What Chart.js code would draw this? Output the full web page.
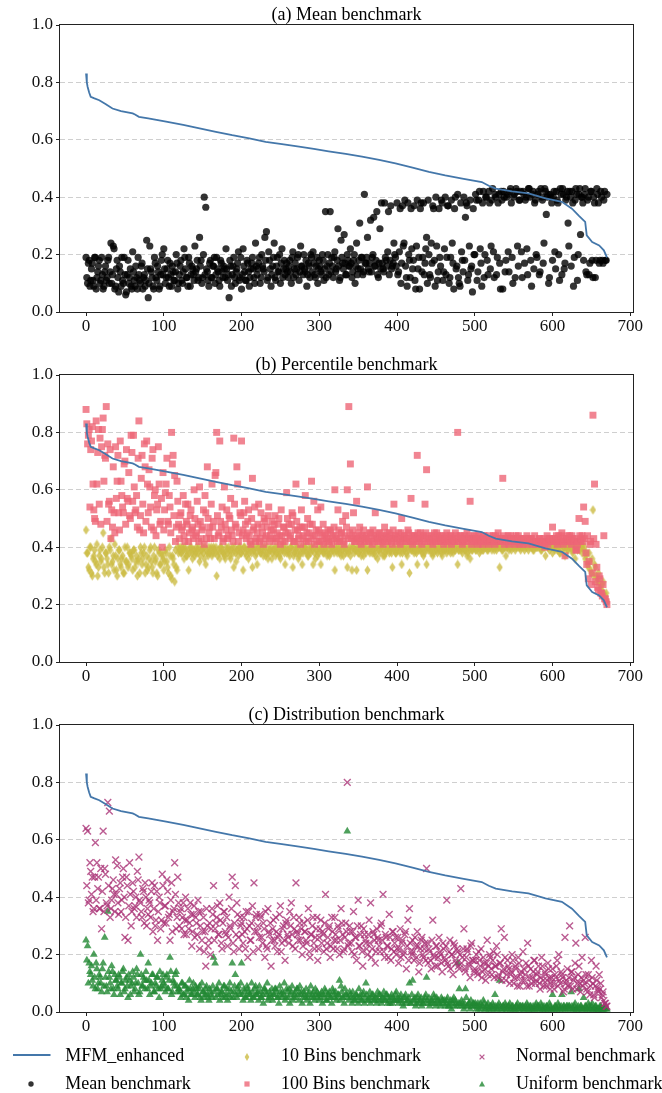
<!DOCTYPE html>
<html><head><meta charset="utf-8">
<script src="https://cdn.jsdelivr.net/npm/chart.js@4.4.1/dist/chart.umd.min.js"></script>
<style>
html,body{margin:0;padding:0;background:#fff;}
body{width:662px;height:1093px;position:relative;overflow:hidden;font-family:"Liberation Serif","Times New Roman",serif;}
canvas{position:absolute;left:0;}
.lg{position:absolute;font-size:18px;line-height:20px;height:20px;white-space:nowrap;color:#000;}
.mk{position:absolute;overflow:visible;}
</style></head><body>
<canvas id="ca" width="662" height="350" style="top:0"></canvas>
<canvas id="cb" width="662" height="350" style="top:350px"></canvas>
<canvas id="cc" width="662" height="350" style="top:700px"></canvas>
<div id="legend"></div>
<script>
// ---------- DATA ----------
const panelTitles = ['(a) Mean benchmark', '(b) Percentile benchmark', '(c) Distribution benchmark'];
const xTicks = [0, 100, 200, 300, 400, 500, 600, 700];
const yTicks = [0, 0.2, 0.4, 0.6, 0.8, 1.0];

// MFM_enhanced (sorted curve), read at breakpoints
const mfmX = [0,1,2,4,6,10,17,25,34,45,60,63,68,80,103,125,146,167,188,210,231,252,274,293,312,334,355,377,398,420,441,462,484,509,518,527,548,569,591,612,625,634,642,644,651,660,666,670];
const mfmY = [.831,.80,.785,.765,.75,.745,.738,.725,.709,.70,.692,.688,.68,.675,.663,.652,.64,.628,.616,.605,.593,.585,.576,.568,.56,.551,.541,.53,.518,.503,.488,.476,.465,.453,.44,.43,.42,.413,.396,.384,.36,.335,.314,.267,.244,.232,.215,.19];

// Each scatter series: values at even sample indices (0,2,...,670) and odd ones (1,3,...,669)
const meanBenchEven = [
.19,.10,.18,.11,.17,.09,.19,.12,.16,.10,
.19,.08,.14,.11,.18,.10,.24,.13,.22,.09,
.18,.07,.14,.19,.10,.13,.07,.18,.12,.09,
.21,.11,.16,.08,.13,.10,.17,.12,.09,.25,
.05,.23,.14,.09,.19,.12,.16,.08,.13,.20,
.22,.10,.15,.12,.17,.09,.14,.11,.20,.08,
.13,.18,.10,.22,.15,.12,.19,.09,.16,.13,
.23,.15,.11,.26,.18,.12,.40,.365,.14,.09,
.18,.12,.16,.10,.19,.14,.09,.17,.12,.15,
.22,.11,.05,.16,.13,.19,.10,.15,.21,.12,
.08,.22,.14,.11,.17,.09,.15,.19,.12,.24,
.13,.17,.10,.20,.15,.26,.28,.12,.18,.09,
.16,.24,.11,.19,.14,.10,.22,.15,.13,.17,
.12,.18,.10,.21,.15,.13,.19,.11,.23,.16,
.20,.14,.09,.17,.12,.19,.21,.13,.16,.10,
.18,.14,.20,.11,.35,.16,.13,.35,.19,.12,
.21,.15,.29,.11,.25,.17,.27,.13,.20,.16,
.22,.12,.18,.10,.24,.15,.31,.19,.13,.41,
.17,.26,.14,.32,.19,.33,.16,.35,.12,.29,
.38,.15,.38,.18,.21,.13,.37,.16,.24,.19,
.38,.14,.36,.17,.23,.39,.12,.38,.18,.36,
.15,.37,.08,.39,.19,.36,.14,.38,.17,.26,
.39,.13,.24,.37,.18,.40,.11,.36,.16,.38,
.14,.40,.19,.37,.12,.39,.17,.36,.15,.41,
.10,.38,.18,.40,.33,.37,.13,.39,.16,.36,
.20,.39,.14,.42,.17,.38,.12,.40,.18,.42,
.15,.39,.21,.41,.13,.38,.17,.42,.08,.40,
.18,.41,.14,.43,.19,.40,.12,.42,.16,.39,
.21,.42,.17,.40,.13,.43,.18,.41,.15,.39,
.19,.42,.14,.40,.17,.43,.34,.41,.12,.40,
.18,.42,.15,.39,.20,.43,.13,.41,.17,.40,
.31,.42,.16,.38,.19,.43,.11,.41,.27,.40,
.18,.43,.13,.40,.17,.42,.12,.38,.18,.41,
.17,.42,.18,.39,.18,.41];
const meanBenchOdd = [
.12,.17,.09,.15,.11,.19,.08,.14,.18,.11,
.13,.09,.16,.12,.19,.14,.10,.23,.08,.15,
.12,.16,.09,.11,.19,.06,.13,.10,.15,.08,
.14,.09,.12,.19,.11,.16,.08,.13,.11,.15,
.10,.15,.12,.08,.17,.11,.14,.09,.18,.13,
.15,.12,.18,.09,.13,.16,.11,.14,.17,.10,
.16,.11,.14,.19,.12,.09,.17,.13,.15,.11,
.14,.18,.12,.16,.10,.20,.13,.15,.11,.17,
.12,.16,.19,.13,.15,.11,.18,.14,.16,.12,
.15,.13,.18,.09,.16,.12,.14,.17,.11,.19,
.13,.16,.11,.18,.14,.12,.17,.15,.10,.16,
.15,.19,.12,.16,.14,.18,.11,.21,.15,.13,
.19,.12,.16,.14,.20,.17,.12,.18,.15,.14,
.16,.14,.19,.12,.17,.15,.20,.14,.16,.13,
.15,.18,.13,.16,.20,.14,.17,.12,.19,.15,
.16,.13,.18,.15,.12,.20,.17,.14,.16,.19,
.14,.18,.16,.12,.19,.15,.17,.13,.18,.16,
.17,.14,.20,.16,.13,.18,.15,.19,.14,.17,
.19,.15,.17,.14,.20,.16,.18,.13,.17,.15,
.17,.14,.19,.16,.35,.18,.15,.17,.20,.16,
.13,.21,.10,.37,.24,.16,.09,.20,.12,.22,
.18,.11,.23,.15,.08,.38,.19,.13,.22,.10,
.20,.12,.17,.36,.09,.23,.14,.19,.39,.11,
.22,.13,.37,.10,.19,.24,.08,.40,.16,.12,
.09,.21,.14,.18,.38,.11,.23,.15,.07,.20,
.41,.11,.39,.22,.09,.42,.20,.40,.13,.38,
.23,.43,.12,.40,.19,.41,.08,.39,.42,.14,
.40,.21,.42,.38,.10,.41,.43,.23,.39,.42,
.12,.41,.39,.22,.43,.40,.09,.42,.38,.20,
.41,.13,.43,.39,.24,.42,.40,.10,.41,.38,
.40,.21,.42,.38,.11,.41,.43,.15,.39,.42,
.23,.40,.42,.09,.39,.41,.20,.43,.40,.38,
.41,.14,.39,.13,.42,.18,.40,.12,.43,.38,
.18,.40,.17,.42,.18];

const bins10Even = [
.46,.38,.32,.40,.30,.37,.35,.41,.33,.39,
.36,.45,.31,.38,.34,.40,.43,.35,.32,.37,
.30,.39,.34,.36,.31,.40,.35,.33,.38,.37,
.32,.39,.35,.30,.36,.40,.34,.38,.31,.37,
.33,.39,.35,.31,.40,.36,.30,.38,.34,.37,
.32,.39,.35,.31,.37,.29,.36,.28,.33,.40,
.39,.38,.40,.36,.39,.37,.32,.40,.38,.39,
.37,.40,.38,.35,.39,.40,.36,.34,.38,.40,
.39,.37,.40,.38,.30,.39,.36,.40,.38,.37,
.40,.38,.39,.36,.40,.33,.38,.39,.37,.40,
.38,.32,.40,.37,.39,.38,.40,.33,.39,.37,
.34,.40,.38,.39,.37,.40,.38,.36,.39,.40,
.38,.39,.37,.40,.38,.36,.39,.40,.34,.38,
.39,.37,.40,.33,.38,.39,.40,.37,.38,.34,
.39,.40,.38,.37,.39,.40,.34,.38,.39,.37,
.40,.34,.39,.38,.40,.37,.39,.38,.40,.39,
.32,.39,.40,.38,.37,.39,.40,.38,.33,.39,
.37,.32,.40,.39,.32,.38,.40,.37,.39,.40,
.38,.32,.39,.40,.38,.39,.37,.40,.39,.38,
.40,.37,.37,.39,.40,.38,.39,.33,.40,.38,
.39,.40,.38,.34,.40,.39,.38,.40,.31,.39,
.40,.38,.39,.34,.40,.39,.38,.37,.40,.34,
.39,.40,.38,.37,.40,.39,.38,.40,.39,.37,
.40,.39,.38,.40,.39,.40,.38,.39,.40,.34,
.39,.40,.38,.40,.39,.37,.40,.36,.39,.40,
.40,.39,.40,.38,.40,.39,.40,.40,.39,.40,
.40,.39,.40,.41,.39,.40,.33,.40,.39,.40,
.37,.40,.39,.40,.41,.40,.39,.40,.41,.40,
.40,.41,.39,.40,.41,.40,.41,.40,.39,.41,
.40,.41,.40,.39,.41,.40,.41,.40,.39,.41,
.38,.40,.41,.39,.40,.38,.41,.40,.37,.40,
.39,.41,.40,.38,.41,.40,.39,.41,.40,.38,
.39,.36,.38,.33,.35,.31,.53,.34,.30,.29,
.28,.26,.27,.24,.23,.21];
const bins10Odd = [
.38,.33,.40,.31,.36,.39,.34,.30,.37,.35,
.40,.33,.38,.36,.31,.39,.34,.37,.41,.32,
.36,.39,.33,.37,.31,.35,.40,.34,.38,.36,
.39,.33,.37,.35,.31,.38,.36,.40,.34,.32,
.36,.40,.33,.37,.35,.31,.39,.34,.38,.36,
.35,.38,.33,.40,.30,.37,.34,.39,.32,.38,
.40,.38,.39,.40,.37,.39,.38,.40,.36,.39,
.38,.39,.40,.37,.39,.38,.40,.39,.37,.38,
.40,.38,.39,.40,.37,.38,.40,.39,.38,.36,
.39,.40,.37,.39,.38,.40,.35,.39,.40,.38,
.39,.40,.38,.39,.36,.40,.38,.39,.40,.38,
.40,.39,.38,.40,.39,.37,.40,.38,.39,.36,
.39,.40,.38,.39,.37,.40,.39,.38,.40,.39,
.38,.40,.39,.37,.40,.38,.36,.39,.40,.38,
.40,.39,.37,.40,.38,.39,.40,.36,.39,.38,
.39,.40,.38,.39,.40,.38,.37,.40,.39,.38,
.40,.38,.39,.40,.39,.37,.40,.39,.38,.40,
.39,.40,.38,.39,.40,.38,.39,.40,.37,.39,
.40,.39,.38,.40,.39,.38,.40,.36,.39,.40,
.39,.40,.38,.39,.40,.39,.38,.40,.39,.38,
.40,.39,.40,.38,.39,.40,.37,.39,.40,.39,
.39,.40,.38,.39,.40,.39,.40,.38,.39,.40,
.40,.39,.40,.38,.39,.40,.39,.40,.38,.39,
.39,.40,.39,.40,.38,.39,.40,.39,.40,.39,
.40,.39,.40,.39,.40,.38,.39,.40,.39,.40,
.39,.40,.41,.39,.40,.39,.41,.40,.39,.40,
.41,.40,.39,.40,.41,.40,.40,.39,.41,.40,
.40,.41,.40,.39,.40,.41,.40,.41,.40,.39,
.41,.40,.41,.40,.39,.41,.40,.39,.41,.40,
.40,.41,.39,.41,.40,.37,.41,.40,.41,.40,
.40,.39,.41,.40,.38,.41,.39,.40,.41,.39,
.41,.40,.39,.41,.36,.40,.41,.39,.40,.41,
.40,.37,.34,.38,.32,.36,.30,.33,.28,.31,
.27,.25,.28,.22,.24];

const bins100Even = [
.88,.76,.81,.74,.82,.53,.49,.62,.81,.78,
.75,.85,.72,.89,.76,.56,.43,.47,.52,.75,
.63,.52,.77,.58,.52,.70,.74,.56,.51,.79,
.56,.61,.53,.47,.84,.51,.72,.45,.68,.77,
.52,.61,.47,.74,.58,.44,.55,.62,.49,.40,
.46,.59,.71,.48,.54,.80,.72,.65,.47,.56,
.43,.52,.47,.44,.55,.48,.42,.51,.46,.43,
.50,.45,.48,.61,.43,.47,.41,.52,.68,.45,
.43,.62,.49,.65,.80,.44,.77,.47,.42,.61,
.46,.43,.51,.57,.44,.78,.48,.68,.42,.52,
.77,.46,.56,.43,.49,.44,.41,.64,.47,.42,
.45,.55,.43,.47,.41,.49,.44,.51,.42,.46,
.43,.48,.42,.45,.50,.41,.44,.47,.42,.59,
.45,.43,.48,.51,.42,.62,.46,.44,.41,.47,
.43,.58,.45,.42,.48,.63,.44,.41,.46,.53,
.42,.54,.44,.41,.45,.43,.42,.46,.41,.44,
.60,.43,.53,.42,.45,.49,.41,.51,.60,.89,
.69,.44,.52,.42,.56,.43,.47,.41,.44,.42,
.43,.61,.42,.45,.41,.44,.52,.43,.42,.45,
.43,.41,.47,.44,.42,.45,.43,.41,.55,.44,
.42,.45,.41,.50,.43,.44,.42,.46,.43,.57,
.41,.44,.42,.72,.43,.45,.41,.44,.55,.67,
.42,.44,.43,.41,.45,.42,.44,.43,.42,.44,
.41,.43,.45,.42,.44,.41,.43,.42,.44,.80,
.42,.44,.41,.43,.42,.45,.43,.56,.41,.43,
.42,.44,.41,.43,.42,.41,.44,.42,.43,.41,
.42,.43,.44,.41,.42,.45,.43,.42,.64,.41,
.43,.42,.41,.44,.42,.43,.41,.42,.44,.41,
.42,.41,.43,.42,.41,.42,.43,.41,.42,.41,
.42,.41,.43,.41,.42,.40,.42,.41,.43,.42,
.47,.42,.43,.41,.44,.42,.45,.41,.37,.43,
.42,.44,.41,.43,.42,.39,.41,.50,.42,.44,
.54,.49,.34,.29,.41,.27,.86,.62,.41,.26,
.30,.24,.23,.44,.22,.20];
const bins100Odd = [
.83,.79,.54,.77,.62,.50,.84,.73,.55,.48,
.81,.63,.71,.49,.55,.74,.53,.68,.45,.57,
.72,.46,.63,.54,.69,.48,.57,.66,.50,.73,
.79,.52,.58,.71,.46,.64,.55,.76,.49,.62,
.67,.54,.71,.46,.60,.53,.75,.48,.57,.66,
.53,.62,.49,.58,.45,.69,.51,.42,.63,.48,
.51,.46,.58,.42,.49,.55,.45,.53,.47,.60,
.44,.56,.42,.49,.46,.53,.58,.43,.50,.47,
.55,.47,.43,.66,.51,.45,.49,.54,.43,.48,
.53,.44,.50,.46,.42,.55,.47,.62,.45,.51,
.44,.52,.48,.45,.53,.42,.50,.46,.54,.43,
.48,.42,.52,.45,.50,.43,.47,.54,.44,.49,
.46,.51,.43,.48,.44,.53,.42,.47,.45,.50,
.48,.44,.52,.42,.46,.49,.43,.47,.53,.44,
.47,.42,.50,.45,.43,.48,.56,.44,.42,.46,
.45,.42,.48,.44,.43,.46,.42,.45,.43,.47,
.44,.42,.46,.43,.45,.42,.44,.47,.43,.45,
.43,.46,.42,.44,.43,.45,.42,.44,.46,.43,
.44,.42,.45,.43,.46,.42,.44,.43,.45,.42,
.44,.43,.42,.45,.43,.44,.42,.46,.43,.44,
.43,.42,.45,.43,.44,.42,.43,.45,.42,.44,
.42,.44,.43,.45,.42,.43,.44,.42,.45,.43,
.43,.42,.44,.43,.42,.45,.43,.44,.42,.43,
.42,.44,.43,.42,.44,.43,.42,.45,.43,.42,
.44,.43,.42,.44,.43,.42,.44,.43,.42,.44,
.43,.42,.44,.42,.43,.44,.42,.43,.42,.44,
.42,.43,.42,.44,.43,.42,.43,.42,.44,.43,
.42,.44,.43,.42,.43,.42,.44,.43,.42,.43,
.43,.42,.42,.44,.43,.42,.43,.42,.44,.42,
.42,.43,.42,.41,.43,.42,.44,.42,.43,.42,
.43,.42,.44,.43,.42,.44,.42,.43,.42,.44,
.43,.42,.44,.42,.43,.39,.42,.44,.43,.42,
.43,.38,.44,.35,.42,.31,.43,.28,.33,.25,
.29,.24,.27,.22,.21];

const normalEven = [
.64,.63,.39,.49,.47,.36,.59,.52,.47,.36,
.29,.63,.50,.38,.73,.70,.36,.43,.41,.53,
.51,.34,.45,.39,.50,.26,.47,.25,.52,.30,
.45,.36,.40,.49,.54,.38,.33,.42,.45,.30,
.34,.38,.42,.28,.44,.32,.25,.40,.29,.48,
.31,.37,.46,.33,.25,.45,.35,.52,.29,.47,
.30,.36,.33,.27,.40,.32,.29,.38,.23,.34,
.26,.31,.39,.22,.35,.28,.21,.16,.30,.25,
.20,.36,.44,.29,.33,.27,.38,.24,.31,.35,
.27,.23,.40,.29,.47,.21,.44,.38,.26,.33,
.31,.24,.28,.35,.19,.30,.25,.37,.45,.33,
.28,.22,.34,.26,.31,.19,.23,.36,.27,.16,
.29,.25,.33,.21,.27,.37,.24,.30,.18,.32,
.26,.35,.38,.23,.29,.45,.27,.33,.25,.20,
.31,.28,.24,.36,.19,.27,.33,.22,.29,.18,
.26,.32,.28,.21,.41,.24,.29,.19,.33,.22,
.33,.25,.30,.20,.36,.27,.22,.31,.80,.24,
.28,.21,.35,.26,.18,.39,.23,.30,.16,.27,
.24,.20,.32,.38,.22,.27,.17,.29,.25,.21,
.31,.41,.19,.26,.23,.34,.18,.28,.21,.26,
.22,.17,.29,.24,.20,.27,.15,.32,.36,.21,
.25,.18,.23,.28,.14,.22,.26,.19,.24,.50,
.17,.21,.15,.32,.19,.23,.16,.26,.20,.14,
.22,.18,.39,.16,.25,.20,.13,.23,.17,.21,
.15,.43,.19,.29,.14,.22,.17,.12,.24,.18,
.15,.20,.13,.18,.22,.14,.17,.11,.25,.16,
.19,.13,.21,.16,.23,.12,.17,.29,.14,.26,
.11,.18,.15,.13,.20,.10,.16,.12,.19,.09,
.14,.21,.11,.17,.24,.09,.15,.12,.18,.10,
.13,.16,.08,.19,.11,.14,.09,.17,.12,.10,
.15,.08,.12,.18,.20,.10,.13,.07,.26,.11,
.09,.30,.14,.08,.12,.24,.10,.16,.07,.19,
.11,.26,.08,.13,.06,.18,.10,.05,.16,.08,
.13,.10,.06,.04,.03,.02];
const normalOdd = [
.44,.38,.52,.41,.35,.47,.39,.43,.36,.50,
.42,.35,.48,.37,.44,.33,.39,.46,.35,.41,
.38,.43,.35,.47,.40,.33,.44,.37,.41,.35,
.42,.37,.33,.46,.39,.35,.43,.31,.40,.36,
.39,.33,.45,.36,.30,.42,.35,.38,.32,.44,
.37,.31,.42,.34,.39,.28,.36,.41,.33,.38,
.35,.29,.38,.32,.27,.36,.31,.34,.28,.37,
.33,.27,.35,.30,.25,.33,.28,.36,.23,.31,
.29,.34,.25,.31,.37,.27,.32,.22,.35,.28,
.33,.26,.30,.36,.24,.31,.27,.34,.22,.30,
.27,.33,.22,.29,.35,.25,.31,.21,.28,.34,
.30,.26,.33,.24,.29,.35,.22,.28,.31,.25,
.32,.23,.28,.26,.34,.21,.29,.25,.31,.27,
.24,.30,.27,.33,.22,.28,.25,.31,.29,.23,
.28,.25,.32,.21,.27,.30,.24,.26,.33,.22,
.29,.24,.27,.31,.22,.26,.30,.23,.28,.25,
.27,.22,.29,.25,.31,.21,.26,.28,.23,.30,
.24,.28,.20,.26,.30,.23,.27,.21,.29,.25,
.22,.27,.24,.19,.28,.25,.21,.26,.23,.30,
.25,.21,.27,.23,.19,.26,.22,.28,.24,.20,
.26,.22,.19,.25,.21,.28,.23,.18,.24,.20,
.21,.26,.19,.23,.17,.25,.20,.22,.18,.24,
.22,.18,.25,.20,.16,.23,.19,.21,.17,.24,
.19,.23,.17,.21,.15,.20,.24,.18,.22,.16,
.20,.17,.22,.15,.19,.21,.16,.23,.18,.14,
.18,.14,.21,.16,.12,.19,.15,.17,.13,.20,
.15,.18,.12,.16,.20,.13,.17,.11,.15,.19,
.13,.16,.10,.14,.18,.12,.15,.09,.17,.13,
.11,.15,.13,.09,.16,.12,.10,.14,.18,.11,
.14,.10,.12,.16,.09,.13,.11,.15,.08,.12,
.10,.13,.16,.09,.11,.14,.12,.08,.10,.15,
.12,.09,.14,.11,.17,.08,.13,.10,.12,.09,
.10,.13,.07,.11,.09,.12,.06,.09,.11,.07,
.08,.05,.07,.03,.02];

const uniformEven = [
.25,.23,.17,.13,.11,.20,.08,.15,.10,.12,
.07,.17,.26,.09,.35,.12,.08,.14,.06,.11,
.09,.13,.06,.10,.15,.08,.12,.05,.11,.09,
.14,.07,.10,.13,.06,.20,.09,.12,.08,.11,
.17,.06,.10,.13,.07,.09,.12,.05,.08,.11,
.10,.07,.13,.08,.19,.06,.11,.09,.14,.07,
.08,.05,.10,.06,.09,.07,.04,.08,.06,.10,
.05,.08,.06,.09,.04,.07,.05,.08,.06,.04,
.07,.05,.19,.17,.08,.06,.04,.07,.05,.09,
.06,.04,.08,.05,.17,.07,.13,.05,.09,.06,
.17,.04,.07,.05,.08,.06,.04,.07,.05,.09,
.06,.04,.07,.05,.03,.08,.06,.04,.07,.05,
.04,.06,.08,.05,.03,.07,.05,.06,.04,.08,
.05,.03,.07,.04,.06,.05,.08,.04,.06,.03,
.07,.05,.04,.06,.03,.05,.07,.04,.06,.05,
.04,.06,.03,.05,.07,.04,.06,.05,.03,.07,
.05,.04,.06,.11,.09,.05,.03,.06,.63,.04,
.06,.03,.05,.04,.06,.03,.05,.04,.06,.03,
.10,.04,.05,.03,.06,.04,.05,.03,.04,.06,
.03,.05,.04,.06,.03,.04,.05,.03,.04,.06,
.04,.03,.05,.04,.02,.05,.03,.04,.10,.03,
.11,.04,.02,.05,.03,.04,.02,.03,.05,.12,
.03,.02,.04,.03,.05,.02,.04,.03,.02,.04,
.03,.02,.04,.02,.03,.01,.04,.02,.03,.17,
.08,.02,.03,.01,.08,.02,.03,.01,.02,.03,
.02,.01,.03,.02,.01,.02,.03,.01,.02,.01,
.02,.01,.02,.06,.01,.02,.11,.01,.02,.01,
.02,.01,.02,.01,.02,.01,.01,.02,.01,.02,
.01,.02,.01,.01,.02,.01,.02,.01,.01,.02,
.01,.02,.01,.02,.01,.01,.02,.01,.03,.01,
.06,.01,.02,.01,.02,.01,.06,.02,.01,.02,
.01,.02,.07,.01,.02,.01,.01,.08,.02,.01,
.05,.02,.01,.03,.01,.02,.01,.01,.02,.01,
.01,.02,.01,.01,.02,.01];
const uniformOdd = [
.18,.10,.14,.16,.09,.12,.17,.08,.13,.10,
.15,.09,.12,.07,.14,.10,.16,.08,.13,.11,
.08,.12,.10,.14,.07,.11,.09,.13,.06,.10,
.12,.08,.15,.10,.07,.13,.09,.11,.14,.08,
.11,.09,.13,.07,.10,.12,.08,.14,.09,.13,
.09,.12,.08,.11,.14,.07,.10,.13,.09,.08,
.07,.10,.06,.09,.05,.08,.11,.06,.08,.07,
.09,.06,.08,.05,.10,.07,.06,.09,.05,.08,
.06,.09,.07,.05,.08,.10,.06,.07,.09,.05,
.08,.06,.10,.07,.05,.09,.06,.08,.07,.10,
.06,.08,.05,.09,.07,.06,.10,.05,.08,.06,
.07,.09,.05,.06,.08,.07,.10,.05,.06,.08,
.06,.08,.07,.05,.09,.06,.07,.10,.05,.07,
.08,.06,.09,.05,.07,.08,.06,.09,.07,.05,
.06,.08,.05,.07,.09,.06,.05,.08,.07,.06,
.05,.07,.06,.08,.04,.06,.07,.05,.08,.06,
.07,.05,.06,.04,.07,.05,.08,.06,.05,.07,
.05,.07,.04,.06,.05,.08,.06,.04,.07,.05,
.06,.04,.07,.05,.06,.04,.05,.07,.06,.04,
.05,.07,.04,.06,.05,.03,.06,.05,.04,.07,
.05,.04,.06,.03,.05,.06,.04,.05,.03,.06,
.04,.05,.03,.06,.04,.05,.03,.04,.06,.04,
.05,.03,.04,.06,.03,.05,.04,.03,.05,.04,
.04,.03,.05,.02,.04,.03,.05,.04,.02,.03,
.03,.04,.02,.03,.05,.02,.03,.04,.02,.03,
.03,.02,.01,.03,.02,.04,.01,.02,.03,.01,
.02,.03,.01,.02,.01,.03,.02,.01,.02,.03,
.01,.02,.03,.01,.02,.01,.02,.03,.01,.02,
.02,.01,.02,.03,.01,.02,.01,.02,.01,.03,
.02,.01,.03,.01,.02,.01,.02,.01,.02,.01,
.01,.02,.01,.03,.01,.02,.01,.02,.01,.02,
.02,.01,.02,.01,.03,.01,.02,.01,.02,.01,
.01,.02,.01,.02,.01,.03,.01,.02,.01,.01,
.02,.01,.01,.02,.01];

const legendNames = ['MFM_enhanced','Mean benchmark','10 Bins benchmark','100 Bins benchmark','Normal benchmark','Uniform benchmark'];

// ---------- STYLE ----------
const C = {
  line: '#4477AA', mean: 'rgba(0,0,0,0.8)', b10: 'rgba(204,187,68,0.8)',
  b100: 'rgba(238,102,119,0.8)', normal: 'rgba(170,51,119,0.8)', uniform: 'rgba(34,136,51,0.8)'
};
const SERIF = '"Liberation Serif", "Times New Roman", serif';

function thinDiamond(color) {
  const c = document.createElement('canvas');
  c.width = 7; c.height = 10;
  const g = c.getContext('2d');
  g.fillStyle = color;
  g.beginPath();
  g.moveTo(3.5, 0.3); g.lineTo(6.6, 5); g.lineTo(3.5, 9.7); g.lineTo(0.4, 5);
  g.closePath(); g.fill();
  return c;
}

// merge even-index and odd-index samples into {x, y} points ordered by sample index
function pts(even, odd) {
  const out = [];
  even.forEach((v, i) => {
    out.push({x: 2 * i, y: v});
    if (i < odd.length) out.push({x: 2 * i + 1, y: odd[i]});
  });
  return out;
}
function lineDs() {
  return {label: legendNames[0], data: mfmX.map((x, i) => ({x, y: mfmY[i]})), showLine: true,
    borderColor: C.line, backgroundColor: C.line, borderWidth: 1.8, pointRadius: 0, tension: 0, order: 0, clip: 0};
}

const decoPlugin = {
  id: 'deco',
  afterDatasetsDraw(chart, args, opts) {
    const {ctx, chartArea: a} = chart;
    ctx.save();
    ctx.strokeStyle = '#222'; ctx.lineWidth = 1;
    ctx.strokeRect(a.left - 0.5, a.top - 0.5, a.right - a.left + 1, a.bottom - a.top + 1);
    ctx.fillStyle = '#000';
    ctx.font = '18px ' + SERIF;
    ctx.textAlign = 'center'; ctx.textBaseline = 'alphabetic';
    ctx.fillText(opts.title, (a.left + a.right) / 2, a.top - 5);
    ctx.restore();
  }
};

function panel(id, title, datasets) {
  return new Chart(document.getElementById(id), {
    type: 'scatter',
    data: {datasets},
    plugins: [decoPlugin],
    options: {
      responsive: false, animation: false, devicePixelRatio: 1, events: [],
      layout: {padding: {left: 0, right: 29, top: 25, bottom: 8}},
      plugins: {legend: {display: false}, tooltip: {enabled: false}, deco: {title}},
      scales: {
        x: {
          type: 'linear', min: -33.5, max: 703.5,
          afterBuildTicks: s => { s.ticks = xTicks.map(v => ({value: v})); },
          afterFit: s => { s.height = 30; },
          grid: {drawOnChartArea: false, drawTicks: true, tickLength: 4, tickColor: '#222', tickWidth: 1},
          border: {display: false},
          ticks: {font: {family: SERIF, size: 17}, color: '#111', padding: 0, maxRotation: 0, autoSkip: false}
        },
        y: {
          type: 'linear', min: 0, max: 1,
          afterBuildTicks: s => { s.ticks = yTicks.map(v => ({value: v})); },
          afterFit: s => { s.width = 60; },
          grid: {
            color: c => (c.tick && (c.tick.value === 0 || c.tick.value === 1)) ? 'rgba(0,0,0,0)' : '#cfcfcf',
            lineWidth: 1, drawTicks: true, tickLength: 4, tickColor: '#222', tickWidth: 1, tickBorderDash: []
          },
          border: {display: false, dash: [5, 3]},
          ticks: {font: {family: SERIF, size: 17}, color: '#111', padding: 3, callback: v => Number(v).toFixed(1)}
        }
      }
    }
  });
}

panel('ca', panelTitles[0], [
  lineDs(),
  {label: legendNames[1], data: pts(meanBenchEven, meanBenchOdd), pointStyle: 'circle', pointRadius: 3.6,
   pointBackgroundColor: C.mean, pointBorderWidth: 0, order: 1, clip: 0}
]);

const diamondImg = thinDiamond(C.b10);
panel('cb', panelTitles[1], [
  lineDs(),
  {label: legendNames[2], data: pts(bins10Even, bins10Odd), pointStyle: diamondImg, pointRadius: 4,
   pointBackgroundColor: C.b10, pointBorderWidth: 0, order: 2, clip: 0},
  {label: legendNames[3], data: pts(bins100Even, bins100Odd), pointStyle: 'rect', pointRadius: 4.9,
   pointBackgroundColor: C.b100, pointBorderWidth: 0, order: 1, clip: 0}
]);

panel('cc', panelTitles[2], [
  lineDs(),
  {label: legendNames[4], data: pts(normalEven, normalOdd), pointStyle: 'crossRot', pointRadius: 4.8,
   pointBorderColor: C.normal, pointBackgroundColor: C.normal, pointBorderWidth: 1.4, order: 1, clip: 0},
  {label: legendNames[5], data: pts(uniformEven, uniformOdd), pointStyle: 'triangle', pointRadius: 4.5,
   pointBackgroundColor: C.uniform, pointBorderWidth: 0, order: 2, clip: 0}
]);

// ---------- LEGEND (HTML) ----------
(function () {
  const L = document.getElementById('legend');
  const colStart = [12.7, 228.5, 463.5];
  const rowText = [1045, 1073], rowMark = [1057, 1084];
  const NS = 'http://www.w3.org/2000/svg';
  const shapes = [
    '<line x1="0" y1="2" x2="37.5" y2="2" stroke="#4477AA" stroke-width="1.8"/>',
    '<circle cx="7" cy="7" r="2.7" fill="rgba(0,0,0,0.8)"/>',
    '<polygon points="7,3 9.3,7 7,11 4.7,7" fill="rgba(204,187,68,0.8)"/>',
    '<rect x="4.4" y="4.4" width="5.2" height="5.2" fill="rgba(238,102,119,0.8)"/>',
    '<path d="M4.6,4.6 L9.4,9.4 M9.4,4.6 L4.6,9.4" stroke="rgba(170,51,119,0.8)" stroke-width="1.3"/>',
    '<polygon points="7,4 10,9.5 4,9.5" fill="rgba(34,136,51,0.8)"/>'
  ];
  legendNames.forEach((name, k) => {
    const col = Math.floor(k / 2), row = k % 2;
    const svg = document.createElementNS(NS, 'svg');
    svg.setAttribute('class', 'mk');
    if (k === 0) {
      svg.setAttribute('width', '38'); svg.setAttribute('height', '4');
      svg.style.left = colStart[col] + 'px'; svg.style.top = '1053px';
    } else {
      svg.setAttribute('width', '14'); svg.setAttribute('height', '14');
      svg.style.left = (colStart[col] + 18.7 - 7) + 'px'; svg.style.top = (rowMark[row] - 7) + 'px';
    }
    svg.innerHTML = shapes[k];
    L.appendChild(svg);
    const t = document.createElement('div');
    t.className = 'lg';
    t.textContent = name;
    t.style.left = (colStart[col] + 52.5) + 'px';
    t.style.top = rowText[row] + 'px';
    L.appendChild(t);
  });
})();
</script>
</body></html>
